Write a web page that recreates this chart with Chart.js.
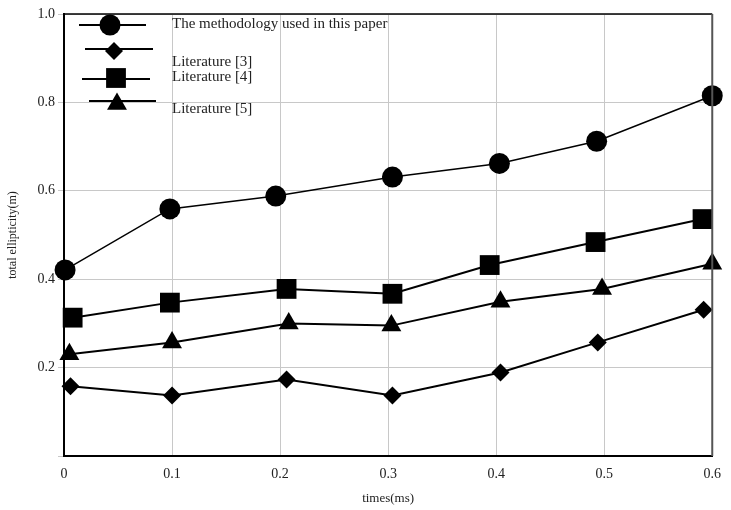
<!DOCTYPE html>
<html>
<head>
<meta charset="utf-8">
<script src="https://cdn.jsdelivr.net/npm/chart.js@4.4.1/dist/chart.umd.min.js"></script>
<style>
  html, body { margin: 0; padding: 0; background: #fff; }
  #wrap { width: 731px; height: 510px; }
</style>
</head>
<body>
<div id="wrap"><canvas id="myChart" width="731" height="510"></canvas></div>
<script>
// series (x in ms, y in m)
const seriesNames = ['The methodology used in this paper', 'Literature [3]', 'Literature [4]', 'Literature [5]'];

const paperX = [0.001, 0.098, 0.196, 0.304, 0.403, 0.493, 0.6];
const paperY = [0.421, 0.559, 0.588, 0.631, 0.662, 0.712, 0.815];

const lit3X = [0.006, 0.1, 0.206, 0.304, 0.404, 0.494, 0.592];
const lit3Y = [0.158, 0.137, 0.173, 0.137, 0.189, 0.257, 0.331];

const lit4X = [0.008, 0.098, 0.206, 0.304, 0.394, 0.492, 0.591];
const lit4Y = [0.313, 0.347, 0.378, 0.367, 0.432, 0.484, 0.536];

const lit5X = [0.005, 0.1, 0.208, 0.303, 0.404, 0.498, 0.6];
const lit5Y = [0.23, 0.257, 0.30, 0.295, 0.349, 0.378, 0.435];

const xTicks = [0, 0.1, 0.2, 0.3, 0.4, 0.5, 0.6];
const yTicks = [0.2, 0.4, 0.6, 0.8, 1.0];

function pts(xs, ys) {
    return xs.map((x, i) => ({ x: x, y: ys[i] }));
}

const styles = [
    { shape: 'circle', r: 10.5, lw: 1.5 },
    { shape: 'rectRot', r: 9, lw: 2 },
    { shape: 'rect', r: 14, lw: 2 },
    { shape: 'triangle', r: 11.5, lw: 2 }
];

const allData = [pts(paperX, paperY), pts(lit3X, lit3Y), pts(lit4X, lit4Y), pts(lit5X, lit5Y)];

Chart.defaults.font.family = '"Liberation Serif", "DejaVu Serif", serif';
Chart.defaults.color = '#222';

// legend placed the way the figure has it (inside the plot, top left)
const legendSpots = [
    { x1: 79, x2: 146, ly: 25, mx: 110, my: 25, ty: 24 },
    { x1: 85, x2: 153, ly: 49, mx: 114, my: 51, ty: 62 },
    { x1: 82, x2: 150, ly: 79, mx: 116, my: 78, ty: 77 },
    { x1: 89, x2: 156, ly: 101, mx: 117, my: 104, ty: 109 }
];

function marker(ctx, shape, r, x, y) {
    ctx.beginPath();
    if (shape === 'circle') {
        ctx.arc(x, y, r, 0, Math.PI * 2);
    } else if (shape === 'rect') {
        const s = r * Math.SQRT1_2;
        ctx.rect(x - s, y - s, 2 * s, 2 * s);
    } else if (shape === 'rectRot') {
        ctx.moveTo(x, y - r); ctx.lineTo(x + r, y); ctx.lineTo(x, y + r); ctx.lineTo(x - r, y);
        ctx.closePath();
    } else {
        ctx.moveTo(x, y - r);
        ctx.lineTo(x + r * Math.sin(Math.PI * 2 / 3), y - r * Math.cos(Math.PI * 2 / 3));
        ctx.lineTo(x + r * Math.sin(Math.PI * 4 / 3), y - r * Math.cos(Math.PI * 4 / 3));
        ctx.closePath();
    }
    ctx.fill();
}

const framePlugin = {
    id: 'frame',
    afterDraw(chart) {
        const ctx = chart.ctx;
        const a = chart.chartArea;
        ctx.save();
        ctx.strokeStyle = '#000';
        ctx.lineWidth = 1.5;
        ctx.beginPath();
        ctx.moveTo(a.left, a.top); ctx.lineTo(a.right, a.top);
        ctx.stroke();
        ctx.strokeStyle = '#555';
        ctx.lineWidth = 2;
        ctx.beginPath();
        ctx.moveTo(a.right, a.top); ctx.lineTo(a.right, a.bottom);
        ctx.stroke();

        ctx.fillStyle = '#000';
        ctx.strokeStyle = '#000';
        ctx.font = '15px "Liberation Serif", "DejaVu Serif", serif';
        ctx.textBaseline = 'middle';
        legendSpots.forEach((p, i) => {
            ctx.lineWidth = 2;
            ctx.beginPath();
            ctx.moveTo(p.x1, p.ly); ctx.lineTo(p.x2, p.ly);
            ctx.stroke();
            marker(ctx, styles[i].shape, styles[i].r, p.mx, p.my);
            ctx.fillStyle = '#222';
            ctx.fillText(seriesNames[i], 172, p.ty);
            ctx.fillStyle = '#000';
        });
        ctx.restore();
    }
};

const chart = new Chart(document.getElementById('myChart').getContext('2d'), {
    type: 'scatter',
    data: {
        datasets: allData.map((d, i) => ({
            label: seriesNames[i],
            data: d,
            showLine: true,
            borderColor: '#000',
            borderWidth: styles[i].lw,
            backgroundColor: '#000',
            pointStyle: styles[i].shape,
            pointRadius: styles[i].r,
            pointBorderWidth: 0,
            pointBackgroundColor: '#000',
            clip: false
        }))
    },
    options: {
        responsive: false,
        animation: false,
        events: [],
        layout: { padding: { top: 12, right: 15, left: 0, bottom: 0 } },
        plugins: {
            legend: { display: false },
            tooltip: { enabled: false }
        },
        scales: {
            x: {
                type: 'linear',
                min: 0,
                max: 0.6,
                afterBuildTicks: s => { s.ticks = xTicks.map(v => ({ value: v })); },
                afterFit: s => { s.height = 54; },
                ticks: {
                    callback: v => v === 0 ? '0' : v.toFixed(1),
                    font: { size: 14 },
                    color: '#222',
                    padding: 10,
                    maxRotation: 0
                },
                grid: { color: '#c8c8c8', lineWidth: 1, drawTicks: false },
                border: { color: '#000', width: 2 },
                title: {
                    display: true,
                    text: 'times(ms)',
                    font: { size: 13 },
                    color: '#222',
                    padding: { top: 0, bottom: 4 }
                }
            },
            y: {
                min: 0,
                max: 1.0,
                afterBuildTicks: s => { s.ticks = [0].concat(yTicks).map(v => ({ value: v })); },
                afterFit: s => { s.width = 64; },
                ticks: {
                    callback: v => v === 0 ? '' : v.toFixed(1),
                    font: { size: 14 },
                    color: '#222',
                    padding: 3
                },
                grid: { color: '#c8c8c8', lineWidth: 1, tickLength: 6 },
                border: { color: '#000', width: 2 },
                title: {
                    display: true,
                    text: 'total ellipticity(m)',
                    font: { size: 12 },
                    color: '#222',
                    padding: { top: 6, bottom: 0 }
                }
            }
        }
    },
    plugins: [framePlugin]
});
</script>
</body>
</html>
